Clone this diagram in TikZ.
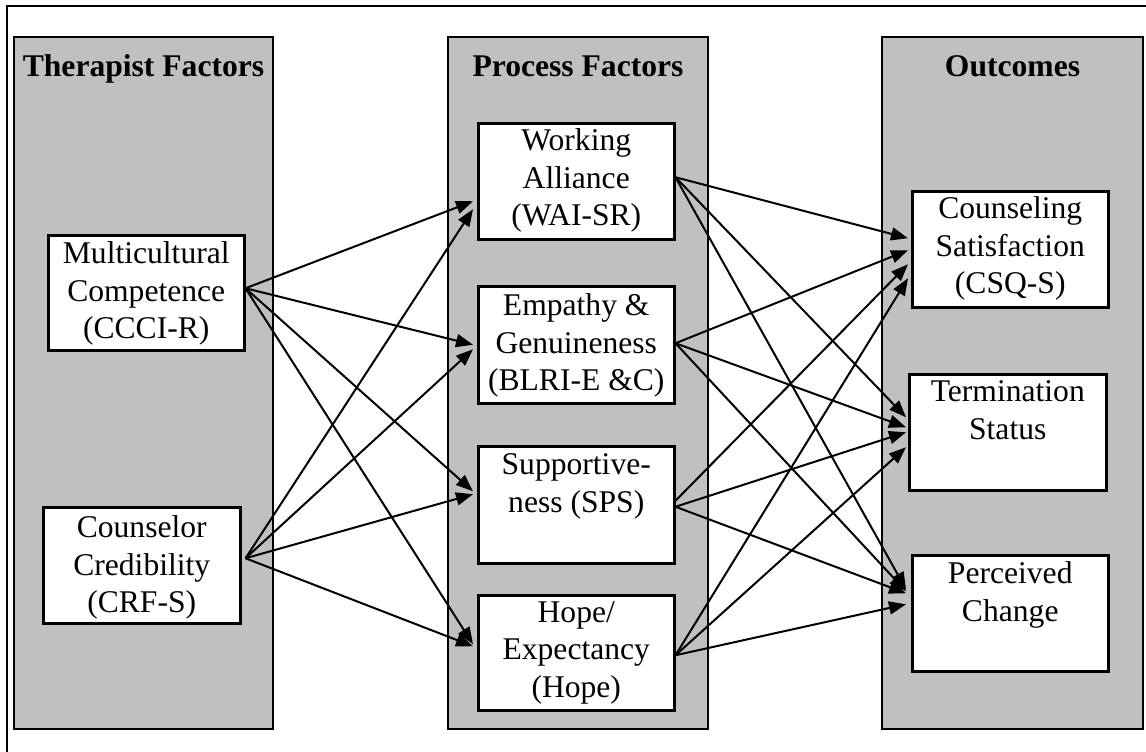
\documentclass[tikz,border=0pt]{standalone}
\usepackage{fontspec}
\setmainfont{Liberation Serif}
\usetikzlibrary{arrows.meta,calc}
\definecolor{panelgray}{HTML}{C0C0C0}
\begin{document}
\begin{tikzpicture}[x=1pt,y=-1pt,
  panel/.style={draw=black, line width=2pt, fill=panelgray, inner sep=0pt, anchor=north west},
  box/.style={draw=black, line width=2.5pt, fill=white, inner sep=0pt, anchor=north west},
  lbl/.style={font=\fontsize{31.6}{37.5}\selectfont, align=center, inner sep=0pt, anchor=north},
  hdr/.style={font=\fontsize{31.6}{37.5}\selectfont\bfseries, inner sep=0pt, anchor=base},
  arr/.style={-{Triangle[length=17pt,width=13pt]}, line width=2pt}]
\useasboundingbox (0,0) rectangle (1146,752);
% outer frame
\draw[line width=2.5pt] (7,752) -- (7,6) -- (1146,6);
% panels
\node[panel, minimum width=259pt, minimum height=692pt] (p1) at (13,36) {};
\node[panel, minimum width=260pt, minimum height=692pt] (p2) at (447,36) {};
\node[panel, minimum width=261pt, minimum height=692pt] (p3) at (881,36) {};
\node[hdr] (h1) at ($(p1.north)+(0,41)$) {Therapist Factors};
\node[hdr] (h2) at ($(p2.north)+(0,41)$) {Process Factors};
\node[hdr] (h3) at ($(p3.north)+(0,41)$) {Outcomes};
% boxes
\node[box, minimum width=196pt, minimum height=115pt] (mc) at (47,234) {};
\node[box, minimum width=197pt, minimum height=116pt] (cc) at (42,506) {};
\node[box, minimum width=196pt, minimum height=116pt] (wa) at (477,122) {};
\node[box, minimum width=196pt, minimum height=117pt] (em) at (477,285) {};
\node[box, minimum width=196pt, minimum height=117pt] (sp) at (477,445) {};
\node[box, minimum width=196pt, minimum height=115pt] (ho) at (477,594) {};
\node[box, minimum width=196pt, minimum height=116pt] (cs) at (911,190) {};
\node[box, minimum width=197pt, minimum height=116pt] (ts) at (908,373) {};
\node[box, minimum width=196pt, minimum height=116pt] (pc) at (911,554) {};
% labels
\node[lbl] (mct) at ($(mc.north)+(0,7.4)$) {Multicultural\\Competence\\(CCCI-R)};
\node[lbl] (cct) at ($(cc.north)+(0,9.4)$) {Counselor\\Credibility\\(CRF-S)};
\node[lbl] (wat) at ($(wa.north)+(0,6.4)$) {Working\\Alliance\\(WAI-SR)};
\node[lbl] (emt) at ($(em.north)+(0,8.4)$) {Empathy \&\\Genuineness\\(BLRI-E \&C)};
\node[lbl] (spt) at ($(sp.north)+(0,8.4)$) {Supportive-\\ness (SPS)};
\node[lbl] (hot) at ($(ho.north)+(0,7.4)$) {Hope/\\Expectancy\\(Hope)};
\node[lbl] (cst) at ($(cs.north)+(0,6.4)$) {Counseling\\Satisfaction\\(CSQ-S)};
\node[lbl] (tst) at ($(ts.north)+(0,7.4)$) {Termination\\Status};
\node[lbl] (pct) at ($(pc.north)+(0,7.4)$) {Perceived\\Change};
% arrows: therapist -> process
\draw[arr] ($(mc.east)+(0,-4.5)$) -- ($(wa.west)+(-4,20)$);
\draw[arr] ($(mc.east)+(0,-4.5)$) -- ($(em.west)+(-4,0)$);
\draw[arr] ($(mc.east)+(0,-4.5)$) -- ($(sp.west)+(-4,-13.5)$);
\draw[arr] ($(mc.east)+(0,-4.5)$) -- ($(ho.west)+(-4,-8.5)$);
\draw[arr] ($(cc.east)+(4,-7)$) -- ($(wa.west)+(-4,28)$);
\draw[arr] ($(cc.east)+(4,-7)$) -- ($(em.west)+(-4,4.5)$);
\draw[arr] ($(cc.east)+(4,-7)$) -- ($(sp.west)+(-4,-10.5)$);
\draw[arr] ($(cc.east)+(4,-7)$) -- ($(ho.west)+(-4,-6.5)$);
% arrows: process -> outcomes
\draw[arr] ($(wa.east)+(0,-4)$) -- ($(cs.west)+(-3,-11)$);
\draw[arr] ($(wa.east)+(0,-4)$) -- ($(ts.west)+(-2,-15)$);
\draw[arr] ($(wa.east)+(0,-4)$) -- ($(pc.west)+(-5,-24)$);
\draw[arr] ($(em.east)+(0,-1.5)$) -- ($(cs.west)+(-3,1)$);
\draw[arr] ($(em.east)+(0,-1.5)$) -- ($(ts.west)+(-2,-5)$);
\draw[arr] ($(em.east)+(0,-1.5)$) -- ($(pc.west)+(-5,-22)$);
\draw[arr] ($(sp.east)+(0,-4)$) -- ($(cs.west)+(-3,15)$);
\draw[arr] ($(sp.east)+(0,2)$) -- ($(ts.west)+(-2,0)$);
\draw[arr] ($(sp.east)+(0,2)$) -- ($(pc.west)+(-5,-20)$);
\draw[arr] ($(ho.east)+(0,2.5)$) -- ($(cs.west)+(-3,29)$);
\draw[arr] ($(ho.east)+(0,2.5)$) -- ($(ts.west)+(-2,15)$);
\draw[arr] ($(ho.east)+(0,2.5)$) -- ($(pc.west)+(-5,-9)$);
\end{tikzpicture}
\end{document}
